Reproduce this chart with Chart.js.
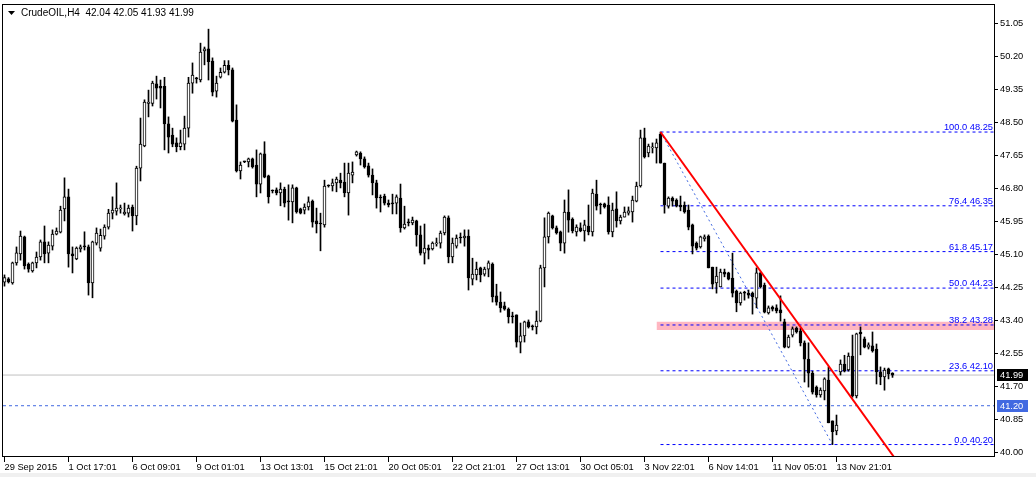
<!DOCTYPE html>
<html><head><meta charset="utf-8">
<script src="https://cdn.jsdelivr.net/npm/chart.js@4.4.1/dist/chart.umd.min.js"></script>
<style>html,body{margin:0;padding:0;background:#fff;overflow:hidden}canvas{display:block}</style>
</head><body>
<canvas id="c" width="1036" height="477"></canvas>
<script>
// ---------- DATA ----------
const symbolTitle = 'CrudeOIL,H4';
const lastQuote = [42.04, 42.05, 41.93, 41.99];

const opens = [
44.38,44.47,44.36,44.88,45.11,45.55,44.85,44.67,44.88,45.03,45.42,45.13,45.31,45.62,45.67,46.27,46.58,45.11,44.98,45.24,
45.29,45.29,44.36,45.39,45.26,45.57,45.80,46.16,46.21,46.27,46.14,46.16,46.32,46.09,47.32,47.89,48.99,48.99,49.49,49.43,
49.43,48.46,48.17,47.97,47.87,47.94,48.35,49.51,49.62,49.59,50.34,50.39,50.08,49.30,49.66,49.79,49.97,49.85,48.56,47.25,
47.48,47.48,47.56,47.40,46.91,47.69,47.12,46.73,46.76,46.68,46.78,46.45,46.45,46.81,46.27,46.24,46.32,46.47,45.96,45.88,
45.86,46.86,46.86,46.94,47.01,46.96,46.68,47.14,47.66,47.71,47.56,47.38,47.14,46.94,46.55,46.60,46.42,46.40,46.42,46.55,
45.78,45.91,45.91,45.96,45.60,45.13,45.26,45.24,45.37,45.39,45.65,46.04,45.03,45.31,45.52,45.52,45.57,44.46,44.57,44.75,
44.59,44.72,44.85,44.03,43.87,43.77,43.69,43.49,43.54,42.84,43.00,43.36,43.23,43.23,43.38,44.75,45.55,46.09,45.78,45.68,
45.39,46.19,46.01,45.68,45.78,45.70,45.83,45.68,46.65,46.37,46.40,46.37,45.68,46.27,45.96,46.06,46.16,46.19,46.47,46.86,
48.10,47.71,47.84,47.84,48.20,47.45,46.34,46.55,46.50,46.37,46.37,46.24,45.86,45.39,45.29,45.50,45.57,44.77,44.36,44.26,
44.64,44.62,44.49,44.15,43.85,44.10,44.10,44.10,43.97,44.62,44.31,43.59,43.74,43.72,43.67,43.36,42.71,43.02,43.20,43.13,
42.82,42.40,42.04,41.68,41.48,41.58,41.86,40.81,40.55,42.07,42.27,42.12,42.48,41.45,43.10,42.92,42.71,42.74,42.66,42.07,
41.94,42.15,42.04];
const highs = [
44.57,44.50,44.90,45.29,45.70,45.57,44.88,44.90,45.16,45.47,45.83,45.42,45.73,45.78,46.34,47.07,46.78,45.29,45.29,45.34,
45.68,45.34,45.44,45.78,45.75,45.86,46.26,46.58,46.94,46.37,46.42,46.37,46.37,47.37,48.61,49.08,49.33,49.56,49.69,49.59,
49.66,48.64,48.35,48.10,48.30,48.66,49.66,50.03,49.66,50.54,50.44,50.90,50.16,49.69,49.90,50.09,50.09,49.90,48.95,47.48,
47.50,47.58,47.58,47.79,47.71,48.00,47.14,46.76,46.81,46.94,46.83,46.89,46.89,46.83,46.29,46.40,46.58,46.50,46.29,46.16,
47.01,46.89,47.04,47.09,47.19,47.45,47.45,47.48,47.76,47.74,47.61,47.45,47.30,47.01,46.63,46.65,46.50,46.65,46.63,46.91,
46.34,46.01,46.06,45.98,45.83,45.88,45.34,45.42,45.52,45.70,46.09,46.09,45.52,45.60,45.65,45.73,45.73,45.00,44.90,44.77,
44.77,44.93,44.88,44.33,44.13,43.87,43.72,43.61,43.54,43.33,43.38,43.41,43.28,43.64,44.82,46.04,46.19,46.11,45.83,45.70,
46.50,46.76,46.04,45.86,45.91,45.98,46.37,46.78,47.01,46.42,46.42,46.58,46.42,46.71,46.11,46.32,46.32,46.60,46.96,48.30,
48.35,47.94,47.97,48.07,48.25,47.45,46.58,46.58,46.53,46.60,46.45,46.37,45.88,45.42,45.57,45.60,45.60,44.77,44.77,44.72,
44.72,44.64,45.13,44.18,44.13,44.15,44.18,44.13,44.75,44.64,44.36,43.77,43.77,43.80,44.03,43.43,43.02,43.23,43.23,43.20,
42.87,42.82,42.09,41.71,41.66,41.92,42.20,40.81,40.96,42.38,42.50,42.56,43.02,43.07,43.23,42.97,42.82,43.10,42.79,42.20,
42.17,42.17,42.05];
const lows = [
44.28,44.36,44.33,44.82,44.95,44.72,44.64,44.64,44.75,44.95,44.88,44.88,45.21,45.60,45.65,45.96,44.77,44.62,44.96,45.16,
45.21,44.05,43.98,45.34,45.18,45.49,45.75,46.01,46.11,46.16,46.11,46.06,45.70,45.86,46.99,47.87,48.64,48.92,49.10,48.87,
47.79,47.71,47.87,47.74,47.79,47.79,48.12,49.25,49.51,49.54,49.98,49.59,49.18,49.15,49.64,49.77,49.72,48.51,47.22,47.04,
47.46,47.35,47.32,46.58,46.68,47.07,46.42,46.68,46.63,46.35,46.32,45.98,45.91,46.16,46.14,46.14,46.24,45.80,45.65,45.19,
45.80,46.83,46.73,46.71,46.81,46.58,46.11,46.94,47.63,47.40,47.32,47.09,46.63,46.29,46.19,46.37,46.32,46.14,46.14,45.67,
45.75,45.83,45.86,45.31,45.08,44.85,44.98,45.21,45.31,45.26,45.60,44.88,44.88,45.26,45.39,45.31,44.18,44.31,44.44,44.39,
44.54,44.52,43.87,43.79,43.61,43.66,43.33,43.33,42.71,42.56,42.84,43.20,43.15,43.05,43.36,44.26,45.39,45.75,45.62,45.19,
45.13,45.67,45.65,45.57,45.68,45.44,45.60,45.57,46.24,46.14,46.29,45.62,45.55,45.80,45.88,46.06,46.11,45.93,46.45,46.83,
47.58,47.61,47.71,47.45,47.45,46.16,46.29,46.34,46.32,46.22,46.16,45.73,45.11,45.21,45.26,45.44,44.75,44.21,44.10,44.26,
44.52,44.44,44.00,43.62,43.79,43.92,43.97,43.56,43.72,44.23,43.59,43.56,43.64,43.59,43.38,42.69,42.69,42.97,43.07,42.74,
41.81,41.68,41.50,41.42,41.42,41.35,40.76,40.20,40.45,41.99,42.07,42.09,41.42,41.40,42.51,42.69,42.66,42.58,41.76,41.74,
41.60,41.89,41.93];
const closes = [
44.50,44.39,44.88,45.14,45.57,44.80,44.72,44.88,45.03,45.42,45.11,45.34,45.62,45.70,46.24,46.58,45.11,45.06,45.26,45.29,
45.29,44.36,45.42,45.65,45.59,45.80,46.16,46.24,46.29,46.29,46.19,46.29,46.09,47.32,47.94,49.02,49.02,49.51,49.38,49.38,
48.46,48.12,47.94,47.87,47.97,48.35,49.51,49.72,49.62,50.31,50.39,50.06,49.28,49.51,49.79,49.97,49.85,48.53,47.25,47.40,
47.48,47.56,47.35,46.91,47.69,47.09,46.58,46.73,46.68,46.78,46.42,46.45,46.81,46.19,46.16,46.32,46.45,45.93,45.88,45.88,
46.86,46.86,46.94,47.04,46.94,46.68,47.19,47.22,47.74,47.56,47.35,47.14,46.94,46.55,46.55,46.42,46.37,46.40,46.58,45.78,
45.88,45.91,45.98,45.60,45.13,45.26,45.21,45.39,45.39,45.65,46.06,45.03,45.39,45.52,45.52,45.57,44.49,44.59,44.72,44.57,
44.72,44.88,44.00,43.87,43.72,43.69,43.49,43.49,42.84,43.00,43.36,43.23,43.23,43.38,44.75,45.55,46.16,45.78,45.65,45.39,
46.19,45.98,45.70,45.80,45.70,45.86,45.68,46.68,46.34,46.37,46.32,45.68,46.24,45.96,46.06,46.19,46.22,46.50,46.86,48.10,
47.61,47.89,47.87,47.97,47.45,46.37,46.55,46.47,46.34,46.32,46.19,45.80,45.31,45.26,45.55,45.55,44.75,44.33,44.54,44.64,
44.59,44.46,44.10,43.85,44.10,44.10,44.05,44.00,44.62,44.26,43.61,43.72,43.69,43.64,43.59,42.71,42.97,43.18,43.10,42.82,
42.40,42.04,41.55,41.48,41.60,41.89,40.76,40.53,40.70,42.27,42.09,42.48,41.45,43.05,43.05,42.71,42.77,42.61,42.07,41.94,
42.12,42.02,41.99];

const dateTickIndex = [0,16,32,48,64,80,96,112,128,144,160,176,192,208];
const dateLabels = ['29 Sep 2015','1 Oct 17:01','6 Oct 09:01','9 Oct 01:01','13 Oct 13:01','15 Oct 21:01',
  '20 Oct 05:01','22 Oct 21:01','27 Oct 13:01','30 Oct 05:01','3 Nov 22:01','6 Nov 14:01','11 Nov 05:01','13 Nov 21:01'];
const priceTicks = [40.00,40.85,41.70,42.55,43.40,44.25,45.10,45.95,46.80,47.65,48.50,49.35,50.20,51.05];
const priceMin = 39.879, priceMax = 51.548;
const barMin = -0.375, barMax = 247.625;

const fibLevels = [100.0, 76.4, 61.8, 50.0, 38.2, 23.6, 0.0];
const fibPrices = [48.25, 46.35, 45.17, 44.23, 43.28, 42.10, 40.20];
const fibStartIndex = 164, fibEndIndex = 207;
const trendPoints = [[164, 48.25], [240, 37.35]];
const zoneStartIndex = 163, zoneTop = 43.36, zoneBottom = 43.15;
const bidPrice = 41.99;
const alertPrice = 41.20;

// ---------- CHART ----------
const FAMILY = '"Liberation Sans", Arial, sans-serif';
const idx = closes.map((_, i) => i);
const isUp = idx.map(i => closes[i] > opens[i]);

const datasets = [];
// zone rectangle
datasets.push({type:'line', order:20, data:[{x:zoneStartIndex,y:zoneTop},{x:barMax,y:zoneTop}],
  borderWidth:0, pointRadius:0, backgroundColor:'#ffb6c1', fill:{value:zoneBottom}, clip:0});
// bid line
datasets.push({type:'line', order:19, data:[{x:barMin,y:bidPrice},{x:barMax,y:bidPrice}],
  borderColor:'#c0c0c0', borderWidth:1, pointRadius:0, clip:0});
// alert line
datasets.push({type:'line', order:18, data:[{x:barMin,y:alertPrice},{x:barMax,y:alertPrice}],
  borderColor:'#4169e1', borderWidth:1, borderDash:[3,3], pointRadius:0, clip:0});
// fib levels
fibPrices.forEach((p, i) => datasets.push({type:'line', order:17, data:[{x:fibStartIndex,y:p},{x:barMax,y:p}],
  borderColor:'#0000ff', borderWidth:1, borderDash:[3,3], pointRadius:0, clip:0}));
// fib diagonal
datasets.push({type:'line', order:16, data:[{x:fibStartIndex,y:fibPrices[0]},{x:fibEndIndex,y:fibPrices[6]}],
  borderColor:'#4169e1', borderWidth:1, borderDash:[2,3], pointRadius:0, clip:0});
// wicks
datasets.push({type:'bar', order:5, grouped:false, barThickness:1, minBarLength:1,
  data: idx.map(i => ({x:i, y:[lows[i], highs[i]]})), backgroundColor:'#000', borderWidth:0});
// bodies
datasets.push({type:'bar', order:4, grouped:false, barThickness:3, minBarLength:1,
  data: idx.map(i => ({x:i, y:[opens[i], closes[i]]})),
  backgroundColor: idx.map(i => isUp[i] ? '#ffffff' : '#000000'),
  borderColor:'#000', borderWidth:1, borderSkipped:false});
// trend line
datasets.push({type:'line', order:1, data: trendPoints.map(p => ({x:p[0], y:p[1]})),
  borderColor:'#ff0000', borderWidth:2, pointRadius:0, clip:0});

const overlay = {
  id:'overlay',
  beforeDraw(chart){
    const c = chart.ctx; c.save();
    c.fillStyle = '#fff'; c.fillRect(0,0,chart.width,chart.height);
    c.fillStyle = '#f0f0f0'; c.fillRect(0,chart.height-4,chart.width,4);
    c.restore();
  },
  afterDraw(chart){
    const c = chart.ctx, a = chart.chartArea, y = chart.scales.y;
    c.save();
    // frame
    c.strokeStyle = '#000'; c.lineWidth = 1;
    c.strokeRect(a.left - 0.5, a.top + 0.5, a.right - a.left, a.bottom - a.top - 1);
    // fib labels
    c.font = '9.3px ' + FAMILY; c.fillStyle = '#0000ff'; c.textAlign = 'right'; c.textBaseline = 'alphabetic';
    fibLevels.forEach((lv, i) => {
      const py = y.getPixelForValue(fibPrices[i]);
      c.fillText(lv.toFixed(1) + ' ' + fibPrices[i].toFixed(2), a.right - 2, py - 2);
    });
    // price boxes
    const box = (price, bg) => {
      const py = y.getPixelForValue(price);
      c.fillStyle = bg; c.fillRect(a.right + 2, Math.round(py) - 6, 31, 12);
      c.fillStyle = '#fff'; c.textAlign = 'left'; c.textBaseline = 'middle';
      c.fillText(price.toFixed(2), a.right + 5, py + 0.5);
    };
    box(bidPrice, '#000');
    box(alertPrice, '#4169e1');
    // header
    c.fillStyle = '#000';
    c.beginPath(); c.moveTo(8, 11); c.lineTo(15, 11); c.lineTo(11.5, 15); c.closePath(); c.fill();
    c.font = '10px ' + FAMILY; c.textAlign = 'left'; c.textBaseline = 'alphabetic';
    c.fillText(symbolTitle + '  ' + lastQuote.map(v => v.toFixed(2)).join(' '), 21, 16);
    c.restore();
  }
};

new Chart(document.getElementById('c'), {
  type:'bar',
  data:{datasets},
  options:{
    responsive:false, animation:false, devicePixelRatio:1, events:[],
    layout:{padding:{left:3, top:4, right:0, bottom:0}},
    plugins:{legend:{display:false}, tooltip:{enabled:false}},
    scales:{
      x:{type:'linear', min:barMin, max:barMax, offset:false,
        grid:{display:true, drawOnChartArea:false, drawTicks:true, tickLength:5, color:'#000', offset:false},
        border:{display:false},
        ticks:{autoSkip:false, maxRotation:0, minRotation:0, align:'start', padding:0, color:'#000',
          font:{family:FAMILY, size:9.3}, callback:(v, i) => dateLabels[i] ?? ''},
        afterBuildTicks: s => { s.ticks = dateTickIndex.map(v => ({value:v})); },
        afterFit: s => { s.height = 20; s.paddingLeft = 0; s.paddingRight = 0; }
      },
      y:{type:'linear', position:'right', min:priceMin, max:priceMax,
        grid:{display:true, drawOnChartArea:false, drawTicks:true, tickLength:3, color:'#000'},
        border:{display:false},
        ticks:{padding:2, color:'#000', font:{family:FAMILY, size:9.3}, callback: v => v.toFixed(2)},
        afterBuildTicks: s => { s.ticks = priceTicks.map(v => ({value:v})); },
        afterFit: s => { s.width = 41; s.paddingTop = 0; s.paddingBottom = 0; }
      }
    }
  },
  plugins:[overlay]
});
</script>
</body></html>
